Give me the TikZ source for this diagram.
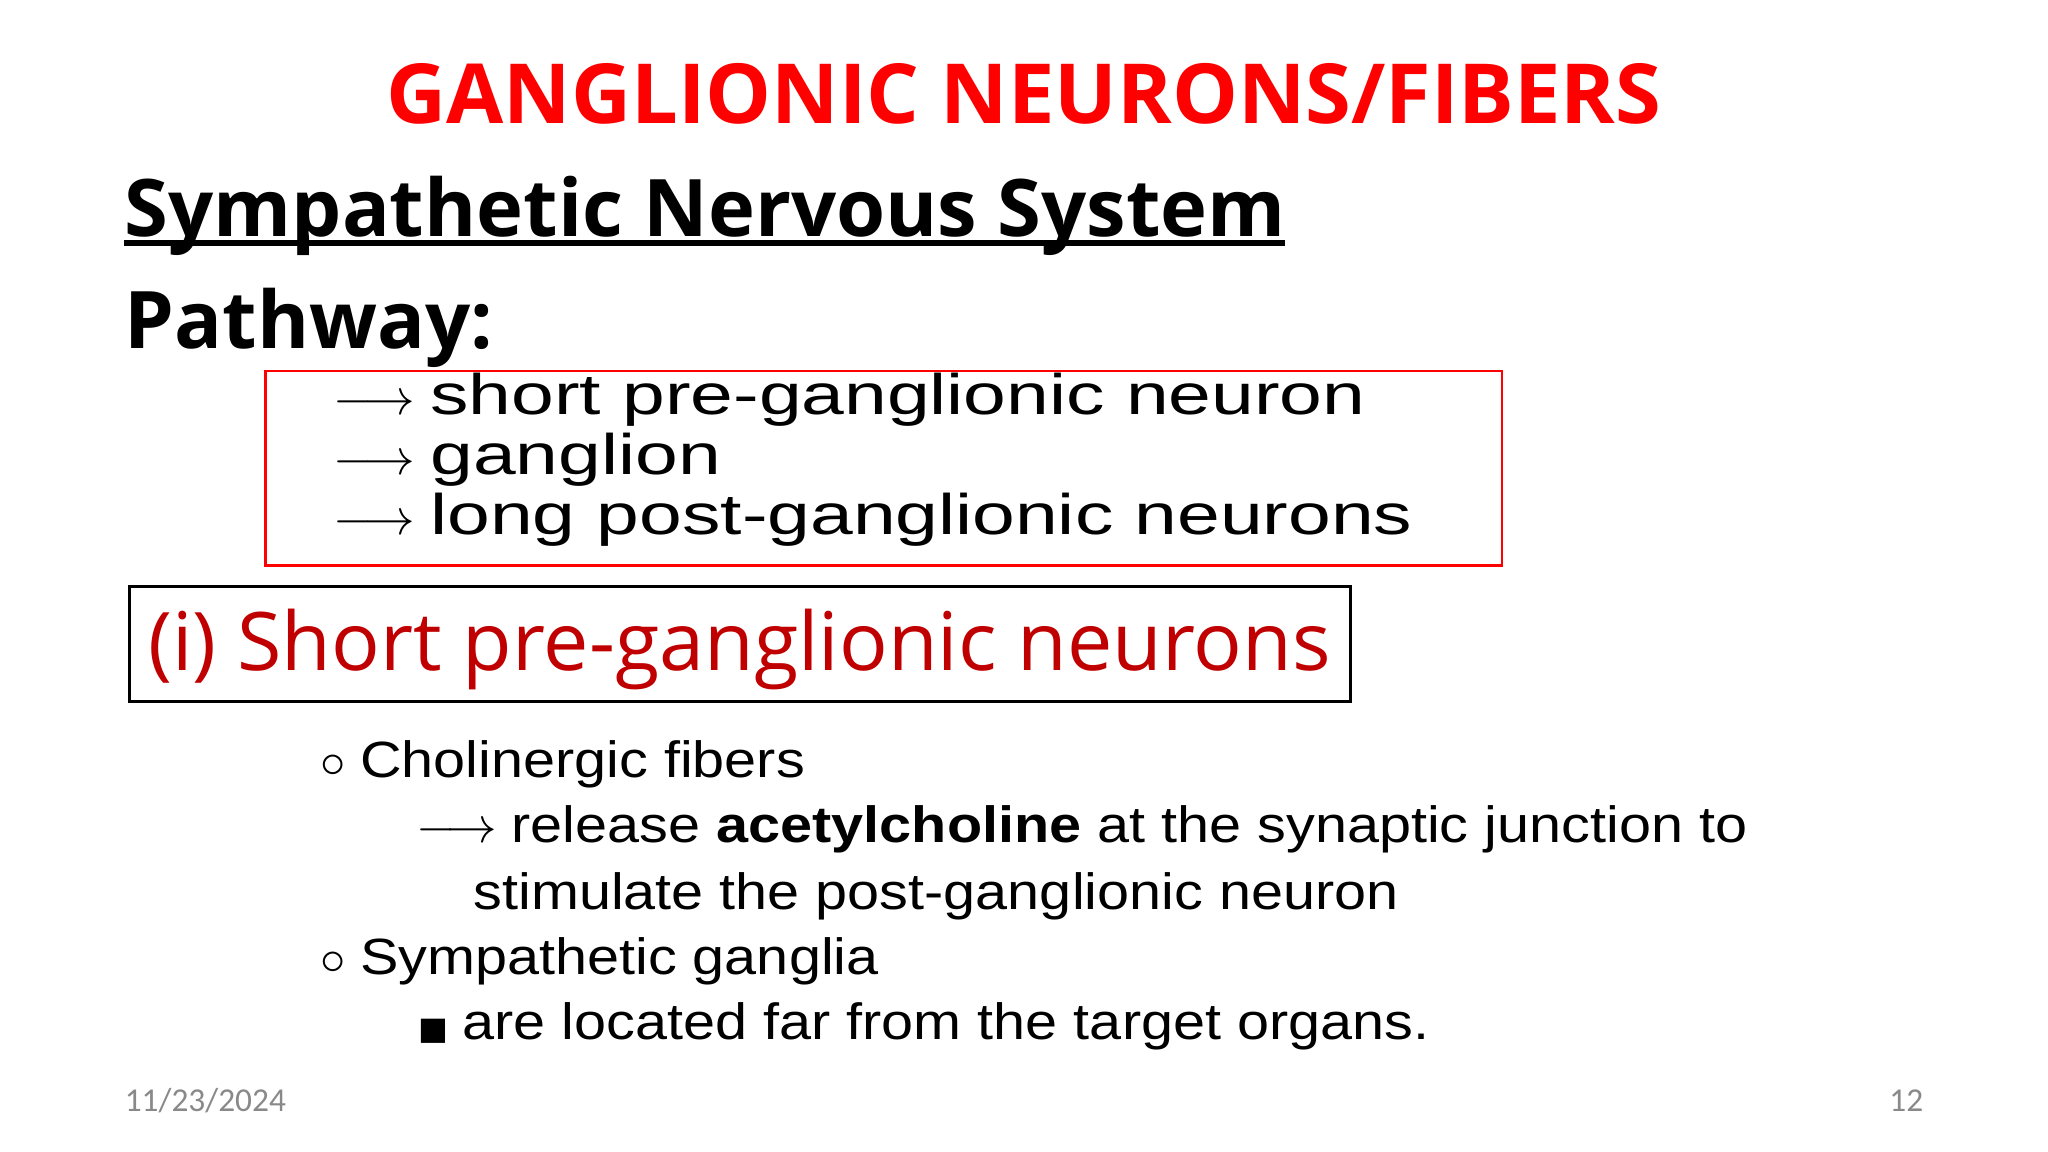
\documentclass[tikz,border=0pt]{standalone}
\usepackage{fontspec}
\usepackage{graphicx}
\setmainfont{Open Sans}
\newfontfamily\arialf{Liberation Sans}
\newfontfamily\calib{Carlito}
\newfontfamily\dejav{DejaVu Sans}
\definecolor{titred}{RGB}{255,0,0}
\definecolor{dred}{RGB}{192,0,0}
\definecolor{gr}{RGB}{137,137,137}
\tikzset{
  lft/.style={anchor=west,inner sep=0pt},
  boxtxt/.style={lft,font=\arialf\fontsize{15.5}{18}\selectfont},
  bultxt/.style={lft,font=\arialf\fontsize{14.5}{17}\selectfont},
}
\newcommand{\arr}{$\longrightarrow$}
\newcommand{\bx}[1]{\scalebox{1.41}[1.05]{#1}}
\newcommand{\bl}[1]{\scalebox{1.13}[1]{#1}}
\begin{document}
\begin{tikzpicture}[x=0.01306cm,y=-0.01306cm]
\useasboundingbox (0,0) rectangle (1568,882);
\node (title) [inner sep=0pt,text=titred,font=\bfseries\fontsize{23.6}{28}\selectfont] at (784,72) {GANGLIONIC NEURONS/FIBERS};
\node (sns) [lft,font=\bfseries\fontsize{22.6}{28}\selectfont] at (95,165) {Sympathetic Nervous System};
\draw[line width=1.8pt] (95,186) -- (984,186);
\node (path) [lft,font=\bfseries\fontsize{22.6}{28}\selectfont] at (95,251) {Pathway:};
\draw[titred,line width=0.8pt] (203,284) rectangle (1150,433);
\node (l1) [boxtxt] at (255,306) {\arr\ \bx{short pre-ganglionic neuron}};
\node (l2) [boxtxt] at (255,352) {\arr\ \bx{ganglion}};
\node (l3) [boxtxt] at (255,398) {\arr\ \bx{long post-ganglionic neurons}};
\draw[line width=1pt] (99,449) rectangle (1034,537);
\node (sh) [lft,text=dred,font=\fontsize{23}{28}\selectfont] at (113,497) {(i) Short pre-ganglionic neurons};
\node (b1) [bultxt] at (245,585) {{\dejav\Large$\circ$}\ \bl{Cholinergic fibers}};
\node (b2) [bultxt] at (318,635) {\arr\ \bl{release \textbf{acetylcholine} at the synaptic junction to}};
\node (b3) [bultxt] at (362,686) {\bl{stimulate the post-ganglionic neuron}};
\node (b4) [bultxt] at (245,736) {{\dejav\Large$\circ$}\ \bl{Sympathetic ganglia}};
\node (b5) [bultxt] at (320,786) {{\dejav\small ■}\ \bl{are located far from the target organs.}};
\node (date) [lft,text=gr,font=\calib\fontsize{9.5}{11}\selectfont] at (95,843) {11/23/2024};
\node (pg) [anchor=east,inner sep=0pt,text=gr,font=\calib\fontsize{9.5}{11}\selectfont] at (1473,843) {12};
\end{tikzpicture}
\end{document}
